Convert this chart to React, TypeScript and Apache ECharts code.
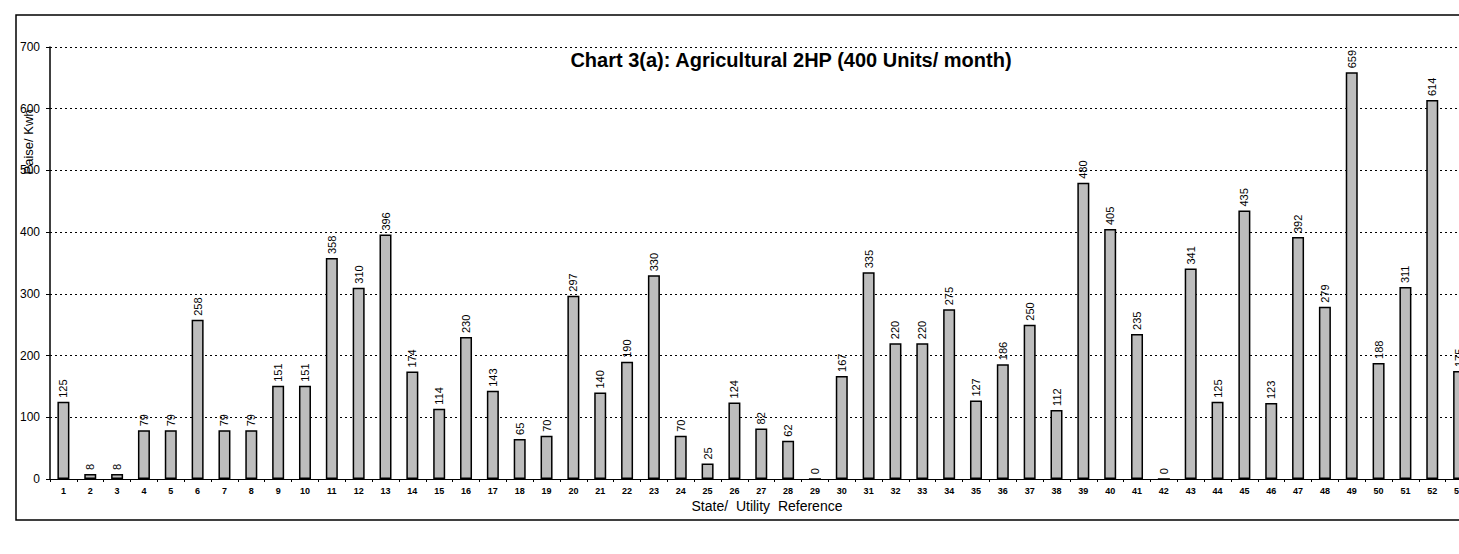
import React, { useEffect, useRef } from "react";
import * as echarts from "echarts";

const categories: string[] = [
  "1","2","3","4","5","6","7","8","9","10","11","12","13","14","15","16","17","18","19","20",
  "21","22","23","24","25","26","27","28","29","30","31","32","33","34","35","36","37","38","39","40",
  "41","42","43","44","45","46","47","48","49","50","51","52","53",
];

const tariffValues: number[] = [
  125, 8, 8, 79, 79, 258, 79, 79, 151, 151, 358, 310, 396, 174, 114, 230, 143, 65, 70, 297,
  140, 190, 330, 70, 25, 124, 82, 62, 0, 167, 335, 220, 220, 275, 127, 186, 250, 112, 480, 405,
  235, 0, 341, 125, 435, 123, 392, 279, 659, 188, 311, 614, 175,
];

const yTicks: number[] = [0, 100, 200, 300, 400, 500, 600, 700];

const chartTitle = "Chart 3(a): Agricultural 2HP (400 Units/ month)";
const xAxisTitle = "State/  Utility  Reference";
const yAxisTitle = "Paise/ Kwh";

const FONT = "Arial, 'Liberation Sans', sans-serif";

export default function App() {
  const ref = useRef<HTMLDivElement>(null);

  useEffect(() => {
    if (!ref.current) return;
    const chart = echarts.init(ref.current, undefined, { renderer: "svg" });
    const gridLeft = 50;
    const gridTop = 47;
    const gridHeight = 432;
    const band = 26.84;
    const gridWidth = band * categories.length;
    const totalWidth = 1560;

    chart.setOption({
      animation: false,
      backgroundColor: "#ffffff",
      textStyle: { fontFamily: FONT },
      grid: {
        left: gridLeft,
        top: gridTop,
        width: gridWidth,
        height: gridHeight,
        containLabel: false,
      },
      xAxis: {
        type: "category",
        data: categories,
        axisLine: { show: true, lineStyle: { color: "#000", width: 1.2 } },
        axisTick: { show: true, length: 3, lineStyle: { color: "#000" } },
        axisLabel: {
          color: "#000",
          fontSize: 9,
          fontWeight: "bold",
          fontFamily: FONT,
          margin: 7,
          interval: 0,
        },
        splitLine: { show: false },
      },
      yAxis: {
        type: "value",
        min: 0,
        max: yTicks[yTicks.length - 1],
        interval: 100,
        axisLine: { show: true, lineStyle: { color: "#000", width: 1.5 } },
        axisTick: { show: true, length: 4, lineStyle: { color: "#000" } },
        axisLabel: {
          color: "#000",
          fontSize: 12,
          fontFamily: FONT,
          margin: 10,
        },
        splitLine: {
          show: true,
          lineStyle: { color: "#000", type: [2, 3], width: 1 },
        },
      },
      series: [
        {
          type: "bar",
          data: tariffValues,
          barWidth: 12,
          itemStyle: {
            color: "#bdbdbd",
            borderColor: "#000",
            borderWidth: 1.5,
          },
          label: {
            show: true,
            position: "top",
            rotate: 90,
            align: "left",
            verticalAlign: "middle",
            distance: 4,
            color: "#000",
            fontSize: 11,
            fontFamily: FONT,
          },
        },
      ],
      graphic: [
        {
          type: "rect",
          shape: { x: 16, y: 15, width: totalWidth, height: 505 },
          style: { fill: "none", stroke: "#000", lineWidth: 1.5 },
          silent: true,
        },
        {
          type: "text",
          x: 791,
          y: 60,
          style: {
            text: chartTitle,
            fill: "#000",
            font: `bold 20px ${FONT}`,
            textAlign: "center",
            textVerticalAlign: "middle",
          },
        },
        {
          type: "text",
          x: 767,
          y: 506,
          style: {
            text: xAxisTitle,
            fill: "#000",
            font: `14px ${FONT}`,
            textAlign: "center",
            textVerticalAlign: "middle",
          },
        },
        {
          type: "text",
          x: 28,
          y: 142,
          rotation: Math.PI / 2,
          style: {
            text: yAxisTitle,
            fill: "#000",
            font: `13px ${FONT}`,
            textAlign: "center",
            textVerticalAlign: "middle",
          },
        },
      ],
    });

    return () => {
      chart.dispose();
    };
  }, []);

  return (
    <div
      style={{
        position: "absolute",
        left: 0,
        top: 0,
        width: 1459,
        height: 554,
        overflow: "hidden",
        background: "#fff",
      }}
    >
      <div ref={ref} style={{ width: 1560, height: 554 }} />
    </div>
  );
}
